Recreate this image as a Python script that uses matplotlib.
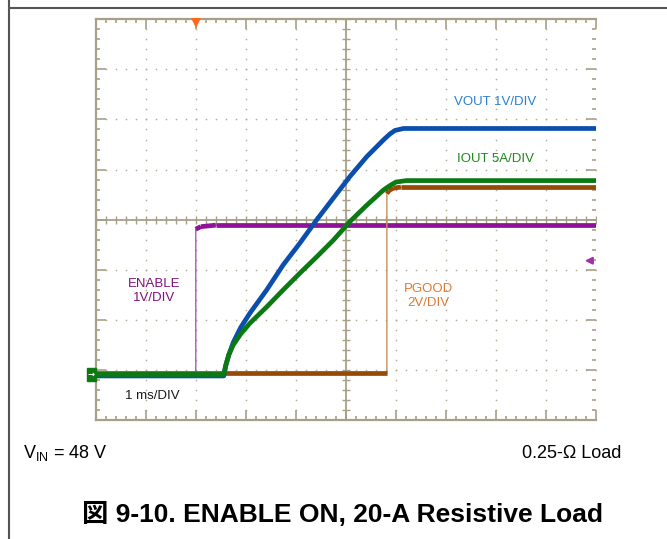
import numpy as np
import matplotlib
matplotlib.use("Agg")
import matplotlib.pyplot as plt
from matplotlib.lines import Line2D
from matplotlib.patches import Rectangle

plt.rcParams['font.family'] = ['Liberation Sans', 'Noto Sans CJK JP', 'DejaVu Sans']
plt.rcParams['mathtext.fontset'] = 'custom'
plt.rcParams['mathtext.rm'] = 'Liberation Sans'

# %%
# Scope traces, in graticule divisions (x: 1 ms/div, y: per-channel V/div)
t_vout = [-5.0, -2.44, -2.40, -2.34, -2.25, -2.10, -1.92, -1.58, -1.25, -0.92, -0.58, -0.25, 0.08, 0.42, 0.75, 0.88, 0.98, 1.15, 5.0]
vout = [-3.12, -3.12, -2.92, -2.70, -2.45, -2.15, -1.87, -1.40, -0.90, -0.47, 0.00, 0.43, 0.86, 1.26, 1.59, 1.71, 1.78, 1.82, 1.82]

t_iout = [-5.0, -2.44, -2.40, -2.34, -2.25, -2.10, -1.92, -1.58, -1.25, -0.92, -0.58, -0.25, 0.08, 0.42, 0.75, 0.88, 1.00, 1.21, 5.0]
iout = [-3.09, -3.09, -2.90, -2.70, -2.50, -2.28, -2.07, -1.74, -1.40, -1.07, -0.74, -0.41, -0.04, 0.29, 0.59, 0.68, 0.75, 0.78, 0.78]

t_enable = [-5.0, -3.0, -3.0, -2.9, -2.6, 5.0]
enable = [-3.10, -3.10, -0.19, -0.14, -0.11, -0.11]

t_pgood = [-5.0, 0.82, 0.82, 0.86, 0.95, 1.10, 5.0]
pgood = [-3.07, -3.07, 0.52, 0.58, 0.63, 0.65, 0.65]

trigger_t = -3.0
enable_ref_level = -0.82

# %%
fig = plt.figure(figsize=(6.67, 5.39), dpi=100)
W, H = 667, 539
ax = fig.add_axes([95.7 / W, 1 - 420 / H, (596 - 95.7) / W, (420 - 19.3) / H])
ax.set_xlim(-5, 5)
ax.set_ylim(-4, 4)

tan = '#a89f88'
dot = '#b5af9c'

# graticule dots
for gx in range(-4, 5):
    if gx == 0:
        continue
    ys = np.arange(-4, 4.01, 0.2)
    ax.scatter(np.full_like(ys, gx), ys, s=1.5, color=dot, lw=0, zorder=1)
for gy in range(-3, 4):
    if gy == 0:
        continue
    xs = np.arange(-5, 5.01, 0.2)
    ax.scatter(xs, np.full_like(xs, gy), s=1.5, color=dot, lw=0, zorder=1)

# center crosshair with minor ticks
ax.axvline(0, color=tan, lw=1.3, zorder=1)
ax.axhline(0, color=tan, lw=1.3, zorder=1)
ys = np.arange(-4, 4.01, 0.2)
ax.plot(np.zeros_like(ys), ys, ls='none', marker='_', ms=6, mew=1.0, color=tan, zorder=1)
xs = np.arange(-5, 5.01, 0.2)
ax.plot(xs, np.zeros_like(xs), ls='none', marker='|', ms=6, mew=1.0, color=tan, zorder=1)

# frame and edge ticks
for side in ['left', 'top', 'bottom']:
    ax.spines[side].set_color(tan)
    ax.spines[side].set_linewidth(1.6)
ax.spines['right'].set_visible(False)
ax.set_xticks(np.arange(-5, 6, 1))
ax.set_yticks(np.arange(-4, 5, 1))
ax.set_xticks(np.arange(-5, 5.01, 0.2), minor=True)
ax.set_yticks(np.arange(-4, 4.01, 0.2), minor=True)
ax.tick_params(which='both', direction='in', top=True, right=True, bottom=True, left=True,
               labelbottom=False, labelleft=False, color=tan, width=1.2)
ax.tick_params(which='major', length=7)
ax.tick_params(which='minor', length=3)


def draw_step(t, v, color, thin_color, z):
    # thin edges, thick flat parts (like the scope's fast transitions)
    ax.plot(t, v, color=thin_color, lw=1.0, zorder=z)
    for i in range(len(t) - 1):
        if t[i + 1] != t[i]:
            ax.plot(t[i:i + 2], v[i:i + 2], color=color, lw=3.4, solid_capstyle='butt', zorder=z)


draw_step(t_enable, enable, '#8e1398', '#b455c0', 2)
draw_step(t_pgood, pgood, '#974a06', '#c8905a', 3)
ax.plot(t_vout, vout, color='#0b4fae', lw=3.4, zorder=4)
ax.plot(t_iout, iout, color='#0b7a12', lw=3.4, zorder=5)

# trigger marker, ground marker, reference arrow
ax.plot(trigger_t, 3.93, marker='v', ms=7, color='#ff6a1a', mew=0, clip_on=False, zorder=6)
ax.add_patch(Rectangle((-5.18, iout[0] - 0.13), 0.18, 0.26, color='#0b7a12', clip_on=False, zorder=6))
ax.text(-5.09, iout[0], '→', color='white', fontsize=6, fontweight='bold',
        ha='center', va='center', family='DejaVu Sans', zorder=7)
ax.annotate('', xy=(4.72, enable_ref_level), xytext=(4.99, enable_ref_level),
            arrowprops=dict(arrowstyle='-|>', color='#a030b0', lw=1.6, mutation_scale=10))

# channel labels
ax.text(2.98, 2.34, 'VOUT 1V/DIV', color='#2a7fd0', fontsize=9.5, ha='center', va='center')
ax.text(3.0, 1.21, 'IOUT 5A/DIV', color='#1a8a1a', fontsize=9.5, ha='center', va='center')
ax.text(-3.84, -1.42, 'ENABLE\n1V/DIV', color='#80137f', fontsize=9.5, ha='center', va='center',
        linespacing=1.2)
ax.text(1.65, -1.53, 'PGOOD\n2V/DIV', color='#e07830', fontsize=9.5, ha='center', va='center',
        linespacing=1.2)
ax.text(-3.86, -3.52, '1 ms/DIV', color='#1a1a1a', fontsize=9.5, ha='center', va='center')

# page frame lines
fig.add_artist(Line2D([9 / W, 9 / W], [0, 1], color='#555555', lw=1.5))
fig.add_artist(Line2D([9 / W, 1], [1 - 8 / H, 1 - 8 / H], color='#555555', lw=1.5))

fig.text(22.7 / W, 1 - 457.7 / H, r'V$_{\mathrm{IN}}$ = 48 V', fontsize=13, va='baseline', ha='left')
fig.text(621 / W, 1 - 457.7 / H, '0.25-Ω Load', fontsize=13, va='baseline', ha='right')
fig.text(342.5 / W, 1 - 514 / H, '図 9-10. ENABLE ON, 20-A Resistive Load', fontsize=19,
         fontweight='bold', ha='center', va='center')

fig.savefig('out.png', dpi=100)
